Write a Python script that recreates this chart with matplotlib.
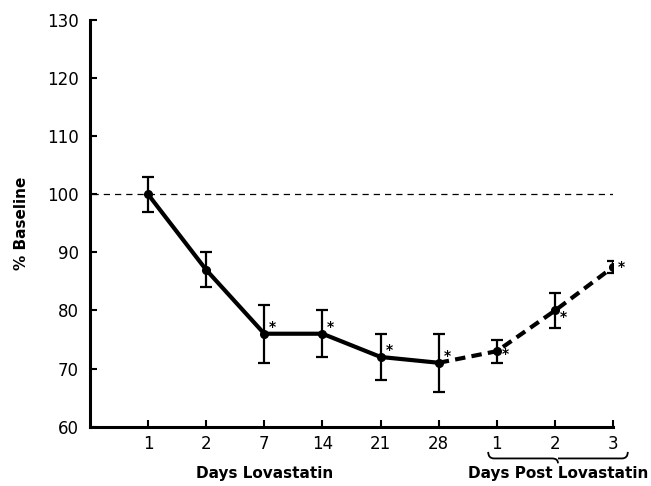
import matplotlib
matplotlib.use("Agg")
import matplotlib.pyplot as plt
import matplotlib.transforms as mtransforms
from matplotlib.path import Path
from matplotlib.patches import PathPatch
import numpy as np

# data
day_labels = ["1", "2", "7", "14", "21", "28", "1", "2", "3"]
pct_baseline = [100, 87, 76, 76, 72, 71, 73, 80, 87.5]
err = [3, 3, 5, 4, 4, 5, 2, 3, 1]
significant = [False, False, True, True, True, True, True, True, True]
n_on = 6  # first six points are during treatment

plt.rcParams["font.family"] = ["DejaVu Sans"]

fig = plt.figure(figsize=(6.51, 4.86), dpi=100)
ax = fig.add_axes([0.138, 0.122, 0.804, 0.837])

x = np.arange(1, len(pct_baseline) + 1)
y = np.array(pct_baseline)

ax.axhline(100, color="black", lw=0.9, ls=(0, (5, 4)), xmin=0.005, zorder=1)

# treatment phase: solid, recovery phase: dashed
ax.plot(x[:n_on], y[:n_on], color="black", lw=3, solid_capstyle="round", zorder=3)
ax.plot(x[n_on - 1:], y[n_on - 1:], color="black", lw=3, ls=(0, (2.5, 1.5)), zorder=3)
ax.errorbar(x, y, yerr=err, fmt="o", color="black", ms=5.5, ecolor="black",
            elinewidth=1.6, capsize=4, capthick=1.6, zorder=4)

# asterisks for significant points
for i, (xi, yi) in enumerate(zip(x, y)):
    if not significant[i]:
        continue
    if i < n_on:
        dy = 5
    elif i == n_on:
        dy = -2
    elif i == len(x) - 1:
        dy = 0
    else:
        dy = -5
    ax.annotate("*", xy=(xi, yi), xytext=(6, dy), textcoords="offset points",
                ha="center", va="center", fontsize=10, fontweight="bold")

ax.set_xlim(0, 9)
ax.set_ylim(60, 130)
ax.set_xticks(x)
ax.set_xticklabels(day_labels)
ax.set_yticks(np.arange(60, 131, 10))
ax.tick_params(direction="in", length=5, width=1.5, labelsize=12, pad=6)
ax.tick_params(axis="y", pad=8)

for side in ["top", "right"]:
    ax.spines[side].set_visible(False)
for side in ["left", "bottom"]:
    ax.spines[side].set_linewidth(2.2)

ax.set_ylabel("% Baseline", fontsize=11, fontweight="bold", labelpad=13)

# group labels
trans = mtransforms.blended_transform_factory(ax.transData, ax.transAxes)
ax.text(3.0, -0.114, "Days Lovastatin", transform=trans, ha="center", va="center",
        fontsize=11, fontweight="bold")
ax.text(8.05, -0.114, "Days Post Lovastatin", transform=trans, ha="center", va="center",
        fontsize=11, fontweight="bold")

# brace under the post-treatment days
x0, x1, xm = 6.85, 9.25, 8.05
yt, yb, yp = -0.062, -0.078, -0.09
verts = [(x0, yt), (x0, yb), (x0 + 0.1, yb),
         (xm - 0.1, yb), (xm, yb), (xm, yp),
         (xm, yb), (xm + 0.1, yb),
         (x1 - 0.1, yb), (x1, yb), (x1, yt)]
codes = [Path.MOVETO, Path.CURVE3, Path.CURVE3,
         Path.LINETO, Path.CURVE3, Path.CURVE3,
         Path.MOVETO, Path.LINETO,
         Path.LINETO, Path.CURVE3, Path.CURVE3]
ax.add_patch(PathPatch(Path(verts, codes), transform=trans, fill=False,
                       lw=1.3, color="black", clip_on=False))

fig.savefig("out.png", dpi=100)
